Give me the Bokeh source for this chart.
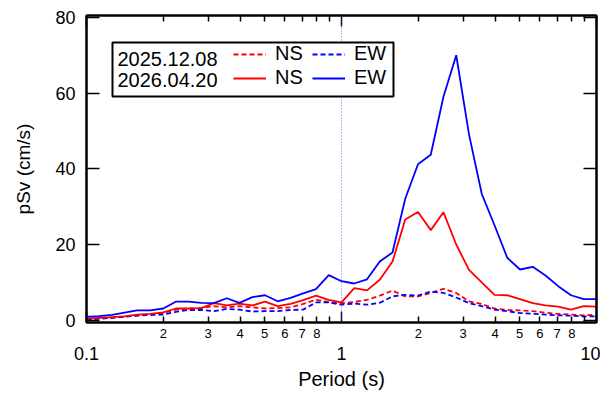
from bokeh.plotting import figure
from bokeh.models import (LogAxis, LinearAxis, FixedTicker, Span, BoxAnnotation,
                          Label, Legend, LegendItem)
from bokeh.embed import file_html
from bokeh.resources import INLINE

# Periods (s), 20 points per decade
period = [0.1, 0.112, 0.126, 0.141, 0.158, 0.178, 0.2, 0.224, 0.251, 0.282,
          0.316, 0.355, 0.398, 0.447, 0.501, 0.562, 0.631, 0.708, 0.794, 0.891,
          1.0, 1.122, 1.259, 1.413, 1.585, 1.778, 1.995, 2.239, 2.512, 2.818,
          3.162, 3.548, 3.981, 4.467, 5.012, 5.623, 6.31, 7.079, 7.943, 8.913, 10.0]

# pSv (cm/s)
ns_old = [0.3, 0.5, 0.7, 1.0, 1.3, 1.5, 1.9, 2.8, 3.1, 3.2, 3.7, 3.4, 3.7, 3.4, 3.1,
          3.2, 3.4, 4.3, 5.4, 4.8, 4.5, 4.8, 5.4, 6.5, 7.8, 6.3, 6.3, 7.2, 8.3, 7.2,
          5.0, 4.3, 3.1, 2.7, 2.6, 2.4, 2.0, 1.7, 1.5, 1.3, 1.5]
ew_old = [0.2, 0.4, 0.6, 0.9, 1.2, 1.4, 1.5, 2.2, 2.7, 2.7, 2.4, 3.0, 2.8, 2.3, 2.4,
          2.4, 2.7, 2.8, 4.7, 4.7, 4.1, 4.4, 4.1, 4.6, 6.3, 6.7, 6.5, 7.6, 7.2, 6.0,
          4.5, 3.7, 2.8, 2.4, 1.9, 1.7, 1.5, 1.3, 1.2, 1.0, 1.0]
ns_new = [0.4, 0.6, 0.8, 1.0, 1.5, 1.7, 2.1, 3.1, 3.1, 3.2, 4.5, 3.9, 4.4, 3.9, 4.9,
          3.7, 4.3, 5.3, 6.5, 5.4, 4.7, 8.5, 7.9, 10.7, 15.5, 26.6, 28.6, 23.8, 28.5, 20.0,
          13.3, 10.0, 6.7, 6.6, 5.6, 4.5, 3.9, 3.6, 2.8, 3.7, 3.6]
ew_new = [0.9, 1.1, 1.4, 2.0, 2.6, 2.6, 3.1, 4.9, 4.9, 4.6, 4.5, 5.8, 4.6, 6.1, 6.6,
          5.0, 5.9, 7.1, 8.2, 11.9, 10.3, 9.7, 10.8, 15.5, 17.9, 32.1, 41.2, 43.7, 59.1, 70.0,
          49.1, 33.4, 25.1, 16.5, 13.4, 14.1, 11.8, 9.0, 6.6, 5.6, 5.6]

dates = ["2025.12.08", "2026.04.20"]
x_major = [0.1, 1, 10]
x_minor = [0.2, 0.3, 0.4, 0.5, 0.6, 0.7, 0.8, 0.9, 2, 3, 4, 5, 6, 7, 8, 9]
x_minor_labels = {0.2: "2", 0.3: "3", 0.4: "4", 0.5: "5", 0.6: "6", 0.7: "7", 0.8: "8",
                  2: "2", 3: "3", 4: "4", 5: "5", 6: "6", 7: "7", 8: "8"}
x_major_labels = {0.1: "0.1", 1: "1", 10: "10"}
y_ticks = [0, 20, 40, 60, 80]

FONT = "Liberation Sans"

p = figure(width=600, height=392, x_axis_type="log", x_range=(0.1, 10),
           y_range=(-0.6, 80.5), output_backend="svg", toolbar_location=None,
           min_border_left=86, min_border_right=4, min_border_top=15,
           min_border_bottom=67)
p.xgrid.visible = False
p.ygrid.visible = False
p.outline_line_color = "black"
p.outline_line_width = 2
p.background_fill_color = "white"
p.border_fill_color = "white"


def tick_only(axis, major_in, minor_in):
    axis.major_tick_in = major_in
    axis.major_tick_out = 0
    axis.minor_tick_in = minor_in
    axis.minor_tick_out = 0
    axis.major_tick_line_width = 1.5
    axis.minor_tick_line_width = 1.5
    axis.axis_line_width = 2
    axis.major_label_text_font_size = "1px"
    axis.major_label_text_alpha = 0
    axis.major_label_standoff = 0


# bottom axis 1: tick marks only
ax = p.xaxis[0]
ax.ticker = FixedTicker(ticks=x_major, minor_ticks=x_minor)
tick_only(ax, 11, 6)

# bottom axis 2: minor labels
ax2 = LogAxis(ticker=FixedTicker(ticks=list(x_minor_labels.keys())),
              major_label_overrides=x_minor_labels)
ax2.axis_line_color = None
ax2.major_tick_line_color = None
ax2.minor_tick_line_color = None
ax2.major_label_standoff = 0
ax2.major_label_text_font = FONT
ax2.major_label_text_font_size = "13px"
ax2.major_label_text_color = "black"
p.add_layout(ax2, "below")

# bottom axis 3: decade labels + title
ax3 = LogAxis(ticker=FixedTicker(ticks=x_major), major_label_overrides=x_major_labels)
ax3.axis_line_color = None
ax3.major_tick_line_color = None
ax3.minor_tick_line_color = None
ax3.major_label_standoff = 0
ax3.major_label_text_font = FONT
ax3.major_label_text_font_size = "18px"
ax3.major_label_text_color = "black"
ax3.axis_label = "Period (s)"
ax3.axis_label_standoff = 5
ax3.axis_label_text_font = FONT
ax3.axis_label_text_font_size = "20px"
ax3.axis_label_text_font_style = "normal"
ax3.axis_label_text_color = "black"
p.add_layout(ax3, "below")

# top axis
axt = LogAxis(ticker=FixedTicker(ticks=x_major, minor_ticks=x_minor))
tick_only(axt, 11, 6)
p.add_layout(axt, "above")

# left axis
ay = p.yaxis[0]
ay.ticker = FixedTicker(ticks=y_ticks)
ay.major_tick_in = 13
ay.major_tick_out = 0
ay.minor_tick_line_color = None
ay.major_tick_line_width = 1.5
ay.axis_line_width = 2
ay.major_label_standoff = 11
ay.major_label_text_font = FONT
ay.major_label_text_font_size = "18px"
ay.major_label_text_color = "black"
ay.axis_label = "pSv (cm/s)"
ay.axis_label_standoff = 18
ay.axis_label_text_font = FONT
ay.axis_label_text_font_size = "19px"
ay.axis_label_text_font_style = "normal"
ay.axis_label_text_color = "black"

# right axis
ayr = LinearAxis(ticker=FixedTicker(ticks=y_ticks))
tick_only(ayr, 13, 0)
ayr.minor_tick_line_color = None
p.add_layout(ayr, "right")

# vertical reference line at 1 s
p.add_layout(Span(location=1, dimension="height", line_color="#4d4dff",
                  line_width=1, line_alpha=0.8, line_dash="1 2"))

RED = "#ff0000"
BLUE = "#0000ff"
r_ns_old = p.line(period, ns_old, line_color=RED, line_width=1.8, line_dash="5 3")
r_ew_old = p.line(period, ew_old, line_color=BLUE, line_width=1.8, line_dash="5 3")
r_ns_new = p.line(period, ns_new, line_color=RED, line_width=1.8)
r_ew_new = p.line(period, ew_new, line_color=BLUE, line_width=1.8)

# legend box
box = BoxAnnotation(left=26, right=307, bottom=226, top=280,
                    left_units="screen", right_units="screen",
                    bottom_units="screen", top_units="screen",
                    fill_color="white", fill_alpha=1.0,
                    line_color="black", line_width=2, line_alpha=1.0)
p.add_layout(box)

for i, d in enumerate(dates):
    p.add_layout(Label(x=31, y=264 - 21 * i, x_units="screen", y_units="screen",
                       text=d, text_font=FONT, text_font_size="20px",
                       text_baseline="middle", text_color="black"))


def make_legend(items, xloc):
    lg = Legend(items=items, location=(xloc, 233), orientation="vertical",
                padding=0, margin=0, spacing=1, glyph_width=33, glyph_height=20,
                label_height=20, label_standoff=9, label_text_font=FONT,
                label_text_font_size="20px", label_text_color="black",
                border_line_alpha=0, background_fill_alpha=0)
    p.add_layout(lg)


make_legend([LegendItem(label="NS", renderers=[r_ns_old]),
             LegendItem(label="NS", renderers=[r_ns_new])], 147)
make_legend([LegendItem(label="EW", renderers=[r_ew_old]),
             LegendItem(label="EW", renderers=[r_ew_new])], 226)

open("out.html", "w").write(file_html(p, INLINE))
